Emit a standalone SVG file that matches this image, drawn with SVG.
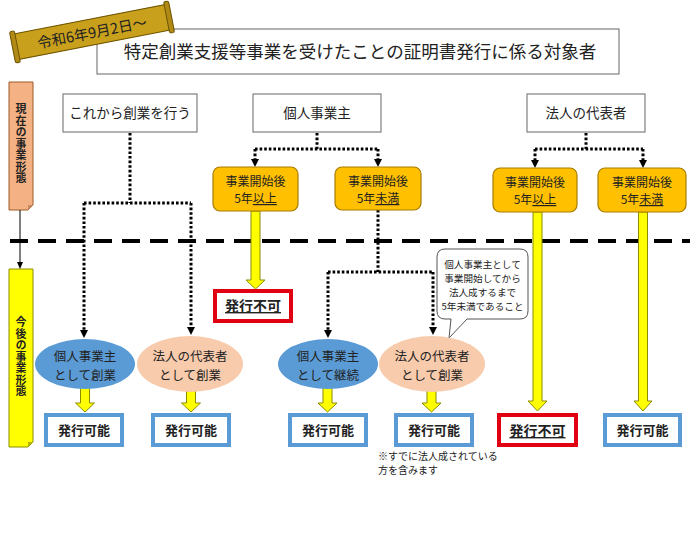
<svg xmlns="http://www.w3.org/2000/svg" xmlns:xlink="http://www.w3.org/1999/xlink" width="690" height="540" viewBox="0 0 690 540">
<defs>
<style>
text{font-family:"Noto Sans CJK JP","Noto Sans",sans-serif;fill:#222;text-anchor:middle}
.box{fill:#fff;stroke:#7f7f7f;stroke-width:1.2}
.org{fill:#FFC000;stroke:#A67C00;stroke-width:1.2}
.blue{fill:#5B9BD5}
.peach{fill:#F8CBAD}
.ok{fill:#fff;stroke:#5B9BD5;stroke-width:4}
.ng{fill:#fff;stroke:#E00012;stroke-width:4}
.dot{fill:none;stroke:#000;stroke-width:3;stroke-dasharray:2.6 2}
.yel{fill:#FFFF00;stroke:#8C8C00;stroke-width:1}
.t13{font-size:13.5px}
.te{font-size:12.5px}
.t12{font-size:12px}
.t10{font-size:10px}
.tc{font-size:9.6px}
.b{font-weight:bold}
.u{text-decoration:underline}
.vt{font-size:11px;font-weight:bold;writing-mode:vertical-rl;letter-spacing:0.5px}
</style>
<path id="ah" d="M-4,-8 L4,-8 L0,0 Z" fill="#000"/>
</defs>

<rect width="690" height="540" fill="#fff"/>

<!-- title box -->
<g id="title">
<rect class="box" x="97" y="29" width="522" height="45"/>
<text x="360" y="58" style="font-size:17.5px">特定創業支援等事業を受けたことの証明書発行に係る対象者</text>
</g>

<!-- date banner -->
<g id="banner" transform="rotate(-11 92 32)">
<rect x="14" y="19" width="156" height="26" fill="#C9A01C" stroke="#6B5200" stroke-width="1"/>
<rect x="11" y="16" width="5" height="32" rx="2" fill="#B08A14" stroke="#6B5200" stroke-width="1"/>
<rect x="168" y="16" width="5" height="32" rx="2" fill="#B08A14" stroke="#6B5200" stroke-width="1"/>
<text x="92" y="38" style="font-size:14.5px">令和6年9月2日〜</text>
</g>

<!-- dashed divider -->
<line x1="10" y1="241" x2="690" y2="241" stroke="#000" stroke-width="4" stroke-dasharray="18 10"/>

<!-- side tags -->
<g id="tag-now">
<path d="M9,82 H33 V205 L28,210 H9 Z" fill="#F4B183" stroke="#9E5A2A" stroke-width="1"/>
<path d="M33,205 L28,205 L28,210 Z" fill="#C98A5E"/>
<text class="vt" x="21" y="144">現在の事業形態</text>
</g>
<g id="tag-future">
<path d="M9,269 H33 V442 L28,447 H9 Z" fill="#FFFF00" stroke="#8C8C00" stroke-width="1"/>
<path d="M33,442 L28,442 L28,447 Z" fill="#B5B500"/>
<text class="vt" x="21" y="357">今後の事業形態</text>
</g>

<!-- connectors -->
<g id="connectors">
<line x1="20" y1="210" x2="20" y2="262" stroke="#000" stroke-width="1"/>
<path d="M17,262 L23,262 L20,269 Z" fill="#000"/>
<path class="dot" d="M130,133 V203 M84,203 H191 M84,203 V330 M191,203 V327"/>
<use xlink:href="#ah" x="84" y="338"/>
<use xlink:href="#ah" x="191" y="335"/>
<path class="dot" d="M317,133 V149 M255,149 H378 M255,149 V160 M378,149 V160"/>
<use xlink:href="#ah" x="255" y="167"/>
<use xlink:href="#ah" x="378" y="167"/>
<path class="dot" d="M586,133 V149 M535,149 H643 M535,149 V161 M643,149 V161"/>
<use xlink:href="#ah" x="535" y="168"/>
<use xlink:href="#ah" x="643" y="168"/>
<path class="dot" d="M378,210 V272 M328,272 H433 M328,272 V330 M433,272 V327"/>
<use xlink:href="#ah" x="328" y="338"/>
<use xlink:href="#ah" x="433" y="335"/>
<!-- yellow arrows -->
<path class="yel" d="M251,211 H260 V280 H265 L255.5,289 L246,280 H251 Z"/>
<path class="yel" d="M533,212 H542 V401 H547 L537.5,411 L528,401 H533 Z"/>
<path class="yel" d="M638.5,212 H647.5 V401 H652 L643,411 L634,401 H638.5 Z"/>
<path class="yel" d="M80.5,386 H89.5 V403 H94.5 L85,412 L75.5,403 H80.5 Z"/>
<path class="yel" d="M186.5,388 H195.5 V403 H200.5 L191,412 L181.5,403 H186.5 Z"/>
<path class="yel" d="M323,386 H332 V403 H337 L327.5,412 L318,403 H323 Z"/>
<path class="yel" d="M427,388 H436 V403 H441 L431.5,412 L422,403 H427 Z"/>
</g>

<!-- top nodes -->
<g id="n-start">
<rect class="box" x="63" y="94" width="134" height="38"/>
<text class="t13" x="130" y="118">これから創業を行う</text>
</g>
<g id="n-sole">
<rect class="box" x="253" y="94" width="128" height="38"/>
<text class="t13" x="317" y="118">個人事業主</text>
</g>
<g id="n-corp">
<rect class="box" x="527" y="94" width="118" height="38"/>
<text class="t13" x="586" y="118">法人の代表者</text>
</g>

<!-- orange nodes -->
<g id="n-sole-5plus">
<rect class="org" x="213" y="167" width="85" height="44" rx="7"/>
<text class="t12"><tspan x="255.5" y="186">事業開始後</tspan><tspan x="255.5" y="203">5年<tspan class="u">以上</tspan></tspan></text>
</g>
<g id="n-sole-5less">
<rect class="org" x="335" y="167" width="86" height="43" rx="7"/>
<text class="t12"><tspan x="378" y="186">事業開始後</tspan><tspan x="378" y="203">5年<tspan class="u">未満</tspan></tspan></text>
</g>
<g id="n-corp-5plus">
<rect class="org" x="493" y="168" width="84" height="44" rx="7"/>
<text class="t12"><tspan x="535" y="187">事業開始後</tspan><tspan x="535" y="204">5年<tspan class="u">以上</tspan></tspan></text>
</g>
<g id="n-corp-5less">
<rect class="org" x="598" y="168" width="88" height="44" rx="7"/>
<text class="t12"><tspan x="642" y="187">事業開始後</tspan><tspan x="642" y="204">5年<tspan class="u">未満</tspan></tspan></text>
</g>

<!-- not eligible (middle) -->
<g id="n-ng1">
<rect class="ng" x="215" y="291" width="76" height="30"/>
<text class="b u" x="253" y="311" style="font-size:14px">発行不可</text>
</g>

<!-- callout -->
<g id="callout">
<path d="M449,338 L451,319 H445 Q437,319 437,311 V257 Q437,249 445,249 H520 Q528,249 528,257 V311 Q528,319 520,319 H467 Z" fill="#fff" stroke="#555" stroke-width="1"/>
<text class="tc"><tspan x="482.5" y="268">個人事業主として</tspan><tspan x="482.5" y="282">事業開始してから</tspan><tspan x="482.5" y="296">法人成するまで</tspan><tspan x="482.5" y="310">5年未満であること</tspan></text>
</g>

<!-- ellipses -->
<g id="e-sole-start">
<ellipse class="blue" cx="85" cy="364" rx="50" ry="25"/>
<text class="te"><tspan x="85" y="361">個人事業主</tspan><tspan x="85" y="379.5">として創業</tspan></text>
</g>
<g id="e-corp-start">
<ellipse class="peach" cx="190" cy="364" rx="53" ry="28"/>
<text class="te"><tspan x="190" y="361">法人の代表者</tspan><tspan x="190" y="379.5">として創業</tspan></text>
</g>
<g id="e-sole-cont">
<ellipse class="blue" cx="328" cy="364" rx="50" ry="25"/>
<text class="te"><tspan x="328" y="361">個人事業主</tspan><tspan x="328" y="379.5">として継続</tspan></text>
</g>
<g id="e-corp-start2">
<ellipse class="peach" cx="432" cy="364" rx="53" ry="28"/>
<text class="te"><tspan x="432" y="361">法人の代表者</tspan><tspan x="432" y="379.5">として創業</tspan></text>
</g>

<!-- bottom results -->
<g id="r1"><rect class="ok" x="46" y="415" width="76" height="30"/><text class="b" x="84" y="435" style="font-size:13px">発行可能</text></g>
<g id="r2"><rect class="ok" x="153" y="415" width="76" height="30"/><text class="b" x="191" y="435" style="font-size:13px">発行可能</text></g>
<g id="r3"><rect class="ok" x="290" y="415" width="76" height="30"/><text class="b" x="328" y="435" style="font-size:13px">発行可能</text></g>
<g id="r4"><rect class="ok" x="396" y="415" width="76" height="30"/><text class="b" x="434" y="435" style="font-size:13px">発行可能</text></g>
<g id="r5"><rect class="ng" x="499" y="415" width="77" height="30"/><text class="b u" x="537.5" y="436" style="font-size:14px">発行不可</text></g>
<g id="r6"><rect class="ok" x="605" y="415" width="75" height="30"/><text class="b" x="642.5" y="435" style="font-size:13px">発行可能</text></g>

<!-- note -->
<g id="note">
<text class="t10" style="text-anchor:start"><tspan x="378" y="460">※すでに法人成されている</tspan><tspan x="378" y="474">方を含みます</tspan></text>
</g>
</svg>
